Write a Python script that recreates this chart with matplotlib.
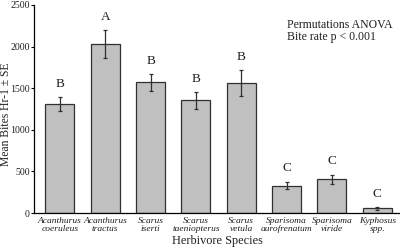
import matplotlib.pyplot as plt

species = ['Acanthurus\ncoeruleus', 'Acanthurus\ntractus', 'Scarus\niserti',
           'Scarus\ntaeniopterus', 'Scarus\nvetula', 'Sparisoma\naurofrenatum',
           'Sparisoma\nviride', 'Kyphosus\nspp.']
bite_rate = [1310, 2030, 1570, 1355, 1565, 330, 405, 55]
se = [85, 165, 100, 100, 155, 45, 55, 15]
groups = ['B', 'A', 'B', 'B', 'B', 'C', 'C', 'C']

plt.rcParams['font.family'] = ['Liberation Serif', 'DejaVu Serif']

fig = plt.figure(figsize=(4.0, 2.49), dpi=100)
ax = fig.add_axes([34 / 400, 36 / 249, 366 / 400, 208 / 249])

x = range(len(species))
ax.bar(x, bite_rate, width=0.64, color='#c0c0c0', edgecolor='#303030',
       linewidth=0.9, zorder=2)
ax.errorbar(x, bite_rate, yerr=se, fmt='none', ecolor='#303030',
            elinewidth=0.9, capsize=1.5, capthick=0.9, zorder=3)

for i, g in enumerate(groups):
    ax.text(i, bite_rate[i] + se[i] + 160, g, ha='center', va='center',
            fontsize=9.5, color='#202020')

ax.text(0.69, 0.935, 'Permutations ANOVA\nBite rate p < 0.001',
        transform=ax.transAxes, ha='left', va='top', fontsize=8.5,
        linespacing=1.1, color='#202020')

ax.set_xlim(-0.57, 7.5)
ax.set_ylim(0, 2500)
ax.set_yticks([0, 500, 1000, 1500, 2000, 2500])
ax.set_xticks(list(x))
ax.set_xticklabels(species, fontstyle='italic', fontsize=6.8,
                   linespacing=1.0, color='#202020')
ax.tick_params(axis='x', length=0, pad=3)
ax.tick_params(axis='y', length=2, width=0.8, labelsize=7.1, pad=1,
               labelcolor='#202020')
ax.spines['top'].set_visible(False)
ax.spines['right'].set_visible(False)
ax.spines['left'].set_linewidth(0.9)
ax.spines['bottom'].set_linewidth(0.9)

ax.set_xlabel('Herbivore Species', fontsize=8.8, labelpad=1, color='#202020')
ax.set_ylabel('Mean Bites Hr-1 \u00b1 SE', fontsize=8.4, color='#202020')
ax.yaxis.set_label_coords(-0.061, 0.476)

fig.savefig('out.png', dpi=100)
